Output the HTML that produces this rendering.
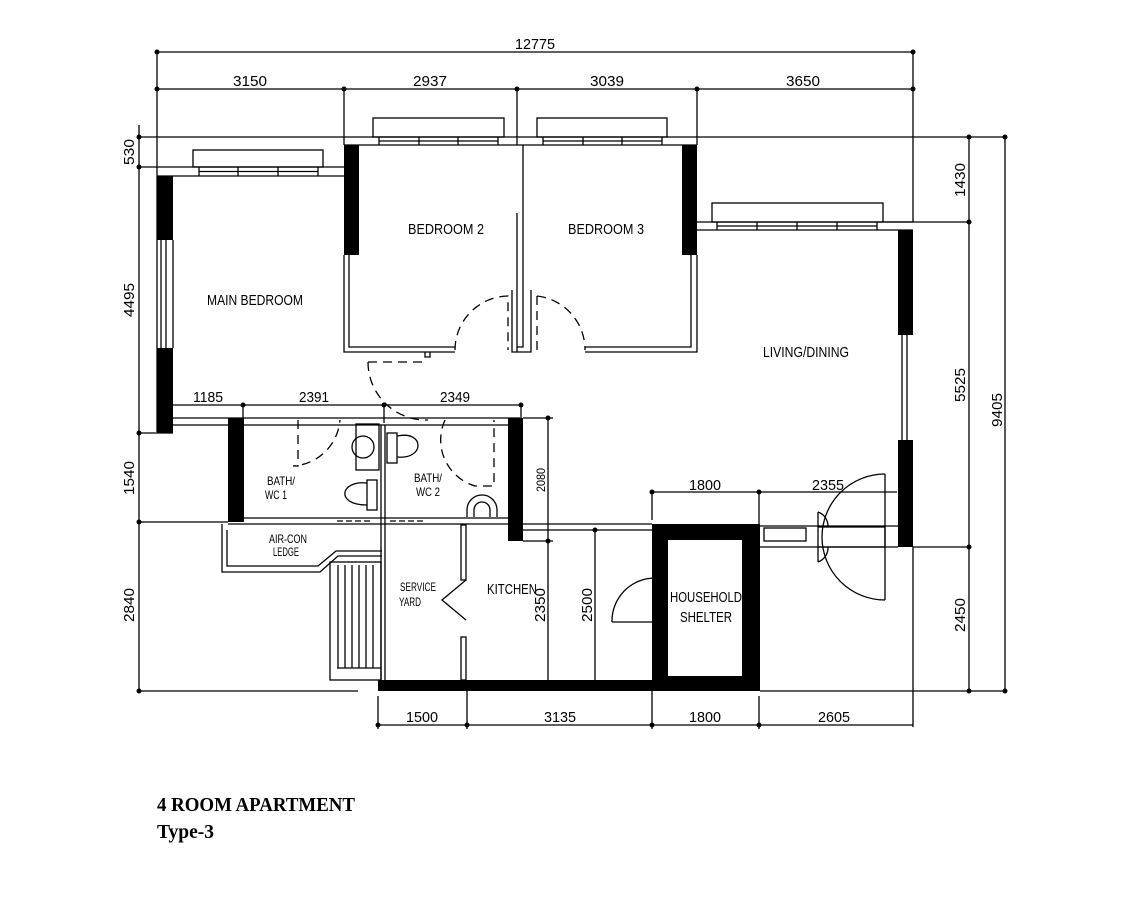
<!DOCTYPE html>
<html><head><meta charset="utf-8"><style>
html,body{margin:0;padding:0;background:#fff;}
svg{display:block;}
.c{font-family:"Liberation Sans",sans-serif;font-size:15px;fill:#000;}
.s{font-family:"Liberation Sans",sans-serif;font-size:12px;fill:#000;}
</style></head><body>
<svg width="1139" height="913" viewBox="0 0 1139 913" xmlns="http://www.w3.org/2000/svg">
<g stroke="#000" stroke-width="1.3" fill="none">
<line x1="157" y1="52" x2="913" y2="52"/>
<line x1="157" y1="89" x2="913" y2="89"/>
<line x1="157" y1="52" x2="157" y2="432"/>
<line x1="913" y1="52" x2="913" y2="222"/>
<line x1="344" y1="89" x2="344" y2="145"/>
<line x1="517" y1="89" x2="517" y2="145"/>
<line x1="697" y1="89" x2="697" y2="145"/>
<line x1="139" y1="125" x2="139" y2="692"/>
<line x1="139" y1="137" x2="1005" y2="137"/>
<line x1="139" y1="167" x2="157" y2="167"/>
<line x1="139" y1="433" x2="173" y2="433"/>
<line x1="139" y1="522" x2="228" y2="522"/>
<line x1="139" y1="691" x2="358" y2="691"/>
<line x1="760" y1="691" x2="1005" y2="691"/>
<line x1="969" y1="137" x2="969" y2="691"/>
<line x1="1005" y1="137" x2="1005" y2="691"/>
<line x1="883" y1="222" x2="969" y2="222"/>
<line x1="913" y1="547" x2="969" y2="547"/>
<line x1="157" y1="167" x2="344" y2="167"/>
<line x1="157" y1="176" x2="344" y2="176"/>
<rect x="193" y="150" width="130" height="17"/>
<line x1="199" y1="167" x2="199" y2="176"/><line x1="238" y1="167" x2="238" y2="176"/><line x1="278" y1="167" x2="278" y2="176"/><line x1="318" y1="167" x2="318" y2="176"/>
<line x1="199" y1="171.5" x2="318" y2="171.5"/>
<line x1="344" y1="145" x2="697" y2="145"/>
<rect x="373" y="118" width="131" height="19"/>
<rect x="537" y="118" width="130" height="19"/>
<line x1="379" y1="141" x2="498" y2="141"/><line x1="543" y1="141" x2="662" y2="141"/>
<line x1="379" y1="137" x2="379" y2="145"/><line x1="419" y1="137" x2="419" y2="145"/><line x1="458" y1="137" x2="458" y2="145"/><line x1="498" y1="137" x2="498" y2="145"/>
<line x1="543" y1="137" x2="543" y2="145"/><line x1="583" y1="137" x2="583" y2="145"/><line x1="622" y1="137" x2="622" y2="145"/><line x1="662" y1="137" x2="662" y2="145"/>
<line x1="697" y1="222" x2="913" y2="222"/>
<line x1="697" y1="230" x2="913" y2="230"/>
<rect x="712" y="203" width="171" height="19"/>
<line x1="717" y1="226" x2="877" y2="226"/>
<line x1="717" y1="222" x2="717" y2="230"/><line x1="757" y1="222" x2="757" y2="230"/><line x1="797" y1="222" x2="797" y2="230"/><line x1="837" y1="222" x2="837" y2="230"/><line x1="877" y1="222" x2="877" y2="230"/>
<line x1="161" y1="240" x2="161" y2="348"/><line x1="166" y1="240" x2="166" y2="348"/><line x1="173" y1="240" x2="173" y2="348"/>
<polyline points="344,255 344,352 455,352"/>
<polyline points="349,255 349,347 455,347"/>
<polyline points="425,352 425,357 430,357 430,352"/>
<polyline points="517,213 517,352 531,352 531,290"/>
<polyline points="523,145 523,347 517,347"/>
<polyline points="512,290 512,352 517,352"/>
<polyline points="697,255 697,352 585,352"/>
<polyline points="691,255 691,347 585,347"/>
<line x1="902" y1="335" x2="902" y2="440"/><line x1="907" y1="335" x2="907" y2="440"/>
<g stroke-dasharray="9,6">
<path d="M455,350 A54,54 0 0 1 508,296 L508,350"/>
<path d="M537,296 A54,54 0 0 1 585,350"/>
<line x1="537" y1="296" x2="537" y2="350"/>
<path d="M368,362 L428,362 M368,362 A58,58 0 0 0 428,420"/>
<path d="M298,420 L298,466 L293,466 A50,50 0 0 0 340,420"/>
<path d="M445,420 A48,48 0 0 0 475,486 L494,486 L494,420"/>
</g>
<line x1="173" y1="405" x2="521" y2="405"/>
<line x1="243" y1="405" x2="243" y2="418"/><line x1="384" y1="405" x2="384" y2="423"/><line x1="521" y1="405" x2="521" y2="418"/>
<line x1="173" y1="418" x2="520" y2="418"/>
<line x1="173" y1="425" x2="520" y2="425"/>
<line x1="244" y1="518" x2="508" y2="518"/>
<line x1="228" y1="524" x2="652" y2="524"/>
<line x1="523" y1="530" x2="652" y2="530"/>
<line x1="381" y1="425" x2="381" y2="691"/><line x1="385" y1="425" x2="385" y2="680"/>
<line x1="337" y1="521" x2="372" y2="521" stroke-dasharray="6,3"/>
<line x1="390" y1="521" x2="425" y2="521" stroke-dasharray="6,3"/>
<line x1="548" y1="418" x2="548" y2="680"/>
<line x1="523" y1="418" x2="553" y2="418"/>
<line x1="523" y1="541" x2="553" y2="541"/>
<line x1="595" y1="530" x2="595" y2="680"/>
<rect x="356" y="424" width="23" height="46"/>
<circle cx="363" cy="447" r="11"/>
<rect x="367" y="480" width="10" height="30"/>
<path d="M367,483 C340,480 335,505 367,505"/>
<rect x="387" y="433" width="10" height="30"/>
<path d="M397,436 C425,430 425,460 397,457"/>
<path d="M467,517 L467,510 A15,15 0 0 1 497,510 L497,517"/>
<path d="M474,517 L474,510 A8,8 0 0 1 490,510 L490,517"/>
<polyline points="222,524 222,572 320,572 338,556 382,556"/>
<polyline points="227,530 227,566 318,566 336,551 382,551"/>
<rect x="330" y="562" width="51" height="118"/>
<line x1="338" y1="565" x2="338" y2="668"/><line x1="345" y1="565" x2="345" y2="668"/><line x1="352" y1="565" x2="352" y2="668"/><line x1="359" y1="565" x2="359" y2="668"/><line x1="366" y1="565" x2="366" y2="668"/><line x1="373" y1="565" x2="373" y2="668"/>
<line x1="337" y1="668" x2="381" y2="668"/>
<rect x="461" y="525" width="5" height="55"/>
<rect x="461" y="637" width="5" height="43"/>
<polyline points="466,580 442,600 466,620"/>
<path d="M612,622 A43,43 0 0 1 655,578"/>
<line x1="612" y1="622" x2="652" y2="622"/>
<line x1="760" y1="526" x2="898" y2="526"/>
<line x1="760" y1="547" x2="898" y2="547"/>
<rect x="764" y="528" width="42" height="13"/>
<rect x="818" y="527" width="67" height="20"/>
<line x1="885" y1="474" x2="885" y2="600"/>
<path d="M885,474 A63,63 0 0 0 885,600"/>
<path d="M818,512 A15,15 0 0 1 828,527 M818,562 A15,15 0 0 0 828,547"/>
<line x1="818" y1="512" x2="818" y2="527"/><line x1="818" y1="547" x2="818" y2="562"/>
<line x1="913" y1="547" x2="913" y2="727"/>
<line x1="652" y1="492" x2="897" y2="492"/>
<line x1="652" y1="492" x2="652" y2="520"/>
<line x1="759" y1="492" x2="759" y2="524"/>
<line x1="378" y1="725" x2="913" y2="725"/>
<line x1="378" y1="696" x2="378" y2="729"/><line x1="467" y1="690" x2="467" y2="729"/><line x1="652" y1="690" x2="652" y2="729"/><line x1="759" y1="696" x2="759" y2="729"/>
</g>
<g fill="#000">
<rect x="157" y="176" width="16" height="64"/>
<rect x="157" y="348" width="16" height="85"/>
<rect x="344" y="145" width="15" height="110"/>
<rect x="682" y="145" width="15" height="110"/>
<rect x="898" y="230" width="15" height="105"/>
<rect x="898" y="440" width="15" height="107"/>
<rect x="228" y="418" width="16" height="104"/>
<rect x="508" y="418" width="15" height="123"/>
<rect x="378" y="680" width="382" height="11"/>
<rect x="652" y="524" width="108" height="16"/>
<rect x="652" y="676" width="108" height="15"/>
<rect x="652" y="524" width="16" height="167"/>
<rect x="742" y="524" width="18" height="167"/>
</g>
<rect x="668" y="540" width="74" height="136" fill="#fff"/>
<g fill="#000">
<circle cx="157" cy="52" r="2.5"/><circle cx="913" cy="52" r="2.5"/>
<circle cx="157" cy="89" r="2.5"/><circle cx="344" cy="89" r="2.5"/><circle cx="517" cy="89" r="2.5"/><circle cx="697" cy="89" r="2.5"/><circle cx="913" cy="89" r="2.5"/>
<circle cx="139" cy="137" r="2.5"/><circle cx="139" cy="167" r="2.5"/><circle cx="139" cy="433" r="2.5"/><circle cx="139" cy="522" r="2.5"/><circle cx="139" cy="691" r="2.5"/>
<circle cx="969" cy="137" r="2.5"/><circle cx="969" cy="222" r="2.5"/><circle cx="969" cy="547" r="2.5"/><circle cx="969" cy="691" r="2.5"/>
<circle cx="1005" cy="137" r="2.5"/><circle cx="1005" cy="691" r="2.5"/>
<circle cx="243" cy="405" r="2.5"/><circle cx="384" cy="405" r="2.5"/><circle cx="521" cy="405" r="2.5"/>
<circle cx="548" cy="418" r="2.5"/><circle cx="548" cy="541" r="2.5"/><circle cx="595" cy="530" r="2.5"/>
<circle cx="652" cy="492" r="2.5"/><circle cx="759" cy="492" r="2.5"/>
<circle cx="378" cy="725" r="2.5"/><circle cx="467" cy="725" r="2.5"/><circle cx="652" cy="725" r="2.5"/><circle cx="759" cy="725" r="2.5"/>
</g>
<g class="c" text-anchor="middle">
<text x="535" y="49" textLength="40" lengthAdjust="spacingAndGlyphs">12775</text>
<text x="250" y="86" textLength="34" lengthAdjust="spacingAndGlyphs">3150</text>
<text x="430" y="86" textLength="34" lengthAdjust="spacingAndGlyphs">2937</text>
<text x="607" y="86" textLength="34" lengthAdjust="spacingAndGlyphs">3039</text>
<text x="803" y="86" textLength="34" lengthAdjust="spacingAndGlyphs">3650</text>
<text x="208" y="402" textLength="30" lengthAdjust="spacingAndGlyphs">1185</text>
<text x="314" y="402" textLength="30" lengthAdjust="spacingAndGlyphs">2391</text>
<text x="455" y="402" textLength="30" lengthAdjust="spacingAndGlyphs">2349</text>
<text x="705" y="490" textLength="32" lengthAdjust="spacingAndGlyphs">1800</text>
<text x="828" y="490" textLength="32" lengthAdjust="spacingAndGlyphs">2355</text>
<text x="422" y="722" textLength="32" lengthAdjust="spacingAndGlyphs">1500</text>
<text x="560" y="722" textLength="32" lengthAdjust="spacingAndGlyphs">3135</text>
<text x="705" y="722" textLength="32" lengthAdjust="spacingAndGlyphs">1800</text>
<text x="834" y="722" textLength="32" lengthAdjust="spacingAndGlyphs">2605</text>
<text transform="translate(134,152) rotate(-90)" textLength="26" lengthAdjust="spacingAndGlyphs">530</text>
<text transform="translate(134,300) rotate(-90)" textLength="34" lengthAdjust="spacingAndGlyphs">4495</text>
<text transform="translate(134,478) rotate(-90)" textLength="34" lengthAdjust="spacingAndGlyphs">1540</text>
<text transform="translate(134,605) rotate(-90)" textLength="34" lengthAdjust="spacingAndGlyphs">2840</text>
<text transform="translate(965,180) rotate(-90)" textLength="34" lengthAdjust="spacingAndGlyphs">1430</text>
<text transform="translate(965,385) rotate(-90)" textLength="34" lengthAdjust="spacingAndGlyphs">5525</text>
<text transform="translate(965,615) rotate(-90)" textLength="34" lengthAdjust="spacingAndGlyphs">2450</text>
<text transform="translate(1002,410) rotate(-90)" textLength="34" lengthAdjust="spacingAndGlyphs">9405</text>
<text transform="translate(545,605) rotate(-90)" textLength="34" lengthAdjust="spacingAndGlyphs">2350</text>
<text transform="translate(592,605) rotate(-90)" textLength="34" lengthAdjust="spacingAndGlyphs">2500</text>
<text x="255" y="305" textLength="96" lengthAdjust="spacingAndGlyphs">MAIN BEDROOM</text>
<text x="446" y="234" textLength="76" lengthAdjust="spacingAndGlyphs">BEDROOM 2</text>
<text x="606" y="234" textLength="76" lengthAdjust="spacingAndGlyphs">BEDROOM 3</text>
<text x="806" y="357" textLength="86" lengthAdjust="spacingAndGlyphs">LIVING/DINING</text>
<text x="512" y="594" textLength="50" lengthAdjust="spacingAndGlyphs">KITCHEN</text>
<text x="706" y="602" textLength="72" lengthAdjust="spacingAndGlyphs">HOUSEHOLD</text>
<text x="706" y="622" textLength="52" lengthAdjust="spacingAndGlyphs">SHELTER</text>
</g>
<g class="s" text-anchor="middle">
<text transform="translate(545,480) rotate(-90)" textLength="24" lengthAdjust="spacingAndGlyphs">2080</text>
<text x="281" y="485" textLength="28" lengthAdjust="spacingAndGlyphs">BATH/</text>
<text x="276" y="499" textLength="22" lengthAdjust="spacingAndGlyphs">WC 1</text>
<text x="428" y="482" textLength="28" lengthAdjust="spacingAndGlyphs">BATH/</text>
<text x="428" y="496" textLength="24" lengthAdjust="spacingAndGlyphs">WC 2</text>
<text x="288" y="543" textLength="38" lengthAdjust="spacingAndGlyphs">AIR-CON</text>
<text x="286" y="556" textLength="26" lengthAdjust="spacingAndGlyphs">LEDGE</text>
<text x="418" y="591" textLength="36" lengthAdjust="spacingAndGlyphs">SERVICE</text>
<text x="410" y="606" textLength="22" lengthAdjust="spacingAndGlyphs">YARD</text>
</g>
<text x="157" y="811" font-family="Liberation Serif,serif" font-weight="bold" font-size="20" textLength="198" lengthAdjust="spacingAndGlyphs">4 ROOM APARTMENT</text>
<text x="157" y="838" font-family="Liberation Serif,serif" font-weight="bold" font-size="20" textLength="57" lengthAdjust="spacingAndGlyphs">Type-3</text>
</svg>
</body></html>
